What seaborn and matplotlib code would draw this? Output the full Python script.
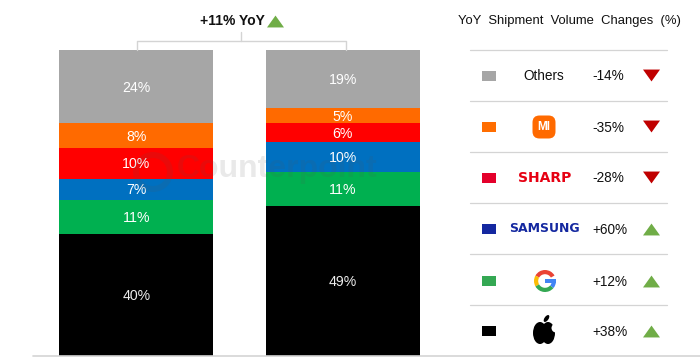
import matplotlib
matplotlib.use("Agg")
import matplotlib.pyplot as plt
from matplotlib.patches import Ellipse, FancyBboxPatch, Rectangle, Wedge, Circle
import numpy as np
import pandas as pd
import seaborn as sns

# data, bottom of the stack first
periods = ["Previous", "Current"]
brands = ["Apple", "Google", "Samsung", "Sharp", "Xiaomi", "Others"]
share_prev = [40, 11, 7, 10, 8, 24]
share_curr = [49, 11, 10, 6, 5, 19]
bar_colors = ["#000000", "#00B050", "#0070C0", "#FF0000", "#FF6A00", "#A6A6A6"]

# side table, top row first
table_keys = ["#A6A6A6", "#FF6D00", "#E4002B", "#1428A0", "#34A853", "#000000"]
yoy_labels = ["-14%", "-35%", "-28%", "+60%", "+12%", "+38%"]
total_label = "+11% YoY"
table_title = "YoY  Shipment  Volume  Changes  (%)"

W, H = 700, 358
UP, DOWN, GRID = "#70AD47", "#C00000", "#D4D4D4"
TRI_UP = [(-1, -0.7), (1, -0.7), (0, 0.7)]
TRI_DOWN = [(-1, 0.7), (1, 0.7), (0, -0.7)]

sns.set_theme(style="white")
plt.rcParams["font.family"] = ["Liberation Sans", "DejaVu Sans"]

fig = plt.figure(figsize=(W / 100, H / 100), dpi=100)
ax = fig.add_axes([33 / W, (H - 356) / H, 414 / W, 306 / H])

df = pd.DataFrame({"brand": brands, periods[0]: share_prev, periods[1]: share_curr})
long = df.melt(id_vars="brand", var_name="period", value_name="share")

# stacked bars
base = {p: 0 for p in periods}
for brand, color in zip(brands, bar_colors):
    sub = long[long.brand == brand]
    bottoms = [base[p] for p in sub.period]
    sns.barplot(data=sub, x="period", y="share", color=color, width=0.745,
                bottom=bottoms, order=periods, saturation=1, ax=ax, errorbar=None,
                linewidth=0, edgecolor="none")
    for i, (p, v) in enumerate(zip(sub.period, sub.share)):
        ax.text(i, base[p] + v / 2 - 0.3, f"{v}%",
                color="white" if brand != "Apple" else "#EDEDED",
                ha="center", va="center", fontsize=10.2, zorder=6)
        base[p] += v

ax.set_xlim(-0.5, 1.505)
ax.set_ylim(0, 100)
ax.set(xlabel="", ylabel="", xticks=[], yticks=[])
sns.despine(ax=ax, left=True, bottom=True)
ax.patch.set_alpha(0)

# overlay in pixel coordinates for bracket, watermark and table
ov = fig.add_axes([0, 0, 1, 1])
ov.set_xlim(0, W)
ov.set_ylim(H, 0)
ov.axis("off")

# watermark
ov.text(177, 169, "Counterpoint", fontsize=23, fontweight="bold", color="#555555",
        alpha=0.13, ha="left", va="center")
ov.add_patch(Wedge((153, 172), 20, 0, 360, width=6, color="#555555", alpha=0.13, lw=0))

# bracket
ov.plot([136.5, 136.5, 346, 346], [50, 41, 41, 50], color=GRID, lw=1.0)
ov.plot([241, 241], [32, 41], color=GRID, lw=1.0)
ov.text(200, 21, total_label, fontsize=10, fontweight="bold", color="#111111",
        ha="left", va="center")
ov.scatter([274.5], [21], marker=TRI_UP, s=150, color=UP, lw=0)

# table
ov.text(569, 21, table_title, fontsize=9.4, color="#111111", ha="center", va="center")
row_lines = [50, 101, 152, 203, 254, 305]
for y in row_lines:
    ov.plot([470, 667], [y, y], color=GRID, lw=0.9)
ov.plot([33, 700], [356, 356], color=GRID, lw=1.2)

row_y = [75.5, 127, 178, 229, 281, 331]
for y, key, lab in zip(row_y, table_keys, yoy_labels):
    ov.add_patch(Rectangle((482, y - 5), 14, 10, color=key, lw=0))
    ov.text(592, y + 0.5, lab, fontsize=9.8, color="#111111", ha="left", va="center")
    up = lab.startswith("+")
    ov.scatter([651], [y if up else y - 1], marker=TRI_UP if up else TRI_DOWN, s=150,
               color=UP if up else DOWN, lw=0)

# brand marks
ov.text(544, row_y[0] + 0.5, "Others", fontsize=9.8, color="#111111", ha="center", va="center")

ov.add_patch(FancyBboxPatch((537, 120), 14, 14, boxstyle="round,pad=4.5,rounding_size=7",
                            color="#FF6A00", lw=0))
ov.text(544, 127, "MI", fontsize=8.5, fontweight="bold", color="white", ha="center", va="center")

ov.text(544.5, row_y[2], "SHARP", fontsize=10, fontweight="bold", color="#E60012",
        ha="center", va="center", family="DejaVu Sans")
ov.text(544.5, row_y[3], "SAMSUNG", fontsize=9, fontweight="bold", color="#1428A0",
        ha="center", va="center", family="DejaVu Sans")

# Google G
gx, gy = 545, 281
for a, b, c in [(-150, -30, "#EA4335"), (-210, -150, "#FBBC05"),
                (-320, -210, "#34A853"), (0, 40, "#4285F4")]:
    ov.add_patch(Wedge((gx, gy), 11, a, b, width=4.2, color=c, lw=0))
ov.add_patch(Rectangle((gx, gy - 2), 11, 4, color="#4285F4", lw=0))

# Apple
ax_, ay = 544, 333
ov.add_patch(Ellipse((ax_ - 4, ay), 14, 22, color="black", lw=0))
ov.add_patch(Ellipse((ax_ + 4, ay), 14, 22, color="black", lw=0))
ov.add_patch(Circle((ax_ + 12, ay - 5), 4.5, color="white", lw=0))
ov.add_patch(Ellipse((ax_ + 2.5, ay - 14.5), 4, 8, angle=35, color="black", lw=0))

fig.savefig("out.png", dpi=100)
